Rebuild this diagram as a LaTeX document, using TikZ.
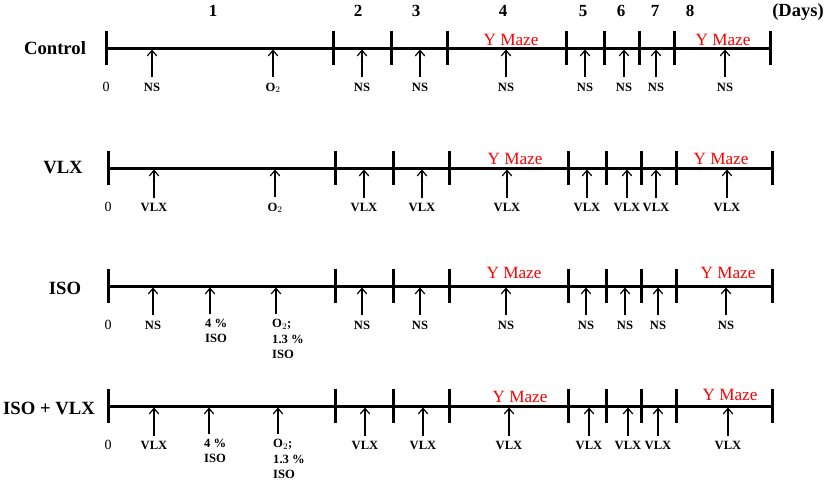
\documentclass[tikz,border=0pt]{standalone}
\usepackage{fontspec}
\setmainfont{Liberation Serif}
\usetikzlibrary{arrows.meta}

\tikzset{
  timeaxis/.style={line width=3pt},
  daytick/.style={line width=3pt},
  daynum/.style={font=\fontsize{17}{19}\selectfont\bfseries, anchor=base, inner sep=0pt},
  grouplbl/.style={font=\fontsize{18.7}{21}\selectfont\bfseries, anchor=base, inner sep=0pt},
  zerolbl/.style={font=\fontsize{14}{16}\selectfont, anchor=base, inner sep=0pt},
  druglbl/.style={font=\fontsize{12.6}{15}\selectfont\bfseries, anchor=base, inner sep=1pt},
  multilbl/.style={druglbl, align=left, anchor=north west},
  mazelbl/.style={font=\fontsize{17.2}{19}\selectfont, text=red, anchor=base, inner sep=0pt},
  drugarrow/.style={->, line width=1.2pt, shorten <=4pt}
}

% axis of one group, with its day ticks
\newcommand{\drawaxis}[1]{%
  \draw[timeaxis] (106,0) -- (770,0);
  \foreach \x in {106,333,391,447,566,604,639,674,770}
    \draw[daytick] (\x,-17) -- (\x,17);
  \node[zerolbl] (#1-zero) at (106,43) {0};
}
% injections below the axis
\newcommand{\drugarrows}[2]{%
  \foreach \x/\txt [count=\i] in {#2} {
    \coordinate (#1-t\i) at (\x,1.5);
    \node[druglbl] (#1-l\i) at (\x,43) {\txt};
    \draw[drugarrow] (#1-t\i |- #1-l\i.north) -- (#1-t\i);
  }
}

\begin{document}
\begin{tikzpicture}[x=1pt,y=-1pt,>={Straight Barb[length=5.5pt,width=9.5pt]}]
  \useasboundingbox (0,0) rectangle (829,482);
  % days
  \foreach \d/\x in {1/213,2/358,3/416,4/503,5/583,6/621,7/655,8/690}
    \node[daynum] (day\d) at (\x,16) {\d};
  \node[daynum, font=\fontsize{18.5}{20}\selectfont\bfseries] (days) at (798,16) {(Days)};

  % Control
  \begin{scope}[yshift=-48pt]
    \node[grouplbl] (control) at (55,6) {Control};
    \drawaxis{ctl}
    \drugarrows{ctl}{152/NS,273/O$_2$,362/NS,420/NS,506/NS,585/NS,624/NS,656/NS,725/NS}
    \node[mazelbl] (ctl-maze1) at (511,-3) {Y Maze};
    \node[mazelbl] (ctl-maze2) at (723,-3) {Y Maze};
  \end{scope}

  % VLX
  \begin{scope}[yshift=-168pt, xshift=2pt]
    \node[grouplbl] (vlx) at (61,5) {VLX};
    \drawaxis{vlx}
    \drugarrows{vlx}{152/VLX,273/O$_2$,362/VLX,420/VLX,505/VLX,585/VLX,625/VLX,654/VLX,725/VLX}
    \node[mazelbl] (vlx-maze1) at (513,-4) {Y Maze};
    \node[mazelbl] (vlx-maze2) at (719,-4) {Y Maze};
  \end{scope}

  % ISO
  \begin{scope}[yshift=-286pt, xshift=2pt]
    \node[grouplbl] (iso) at (63,8) {ISO};
    \drawaxis{iso}
    \drugarrows{iso}{151/NS,360/NS,418/NS,504/NS,584/NS,623/NS,656/NS,724/NS}
    \coordinate (iso-tp) at (208,1.5);
    \node[multilbl] (iso-pct) at (202,32) {4 \%\\ISO};
    \draw[drugarrow] (iso-tp |- iso-pct.north) -- (iso-tp);
    \coordinate (iso-to) at (274,1.5);
    \node[multilbl] (iso-oxy) at (269,32) {O$_2$;\\[1pt]1.3 \%\\ISO};
    \draw[drugarrow] (iso-to |- iso-oxy.north) -- (iso-to);
    \node[mazelbl] (iso-maze1) at (512,-8) {Y Maze};
    \node[mazelbl] (iso-maze2) at (726,-8) {Y Maze};
  \end{scope}

  % ISO + VLX
  \begin{scope}[yshift=-406pt, xshift=2pt]
    \node[grouplbl] (isovlx) at (47,8) {ISO + VLX};
    \drawaxis{ivx}
    \drugarrows{ivx}{152/VLX,363/VLX,421/VLX,507/VLX,587/VLX,626/VLX,656/VLX,726/VLX}
    \coordinate (ivx-tp) at (207,1.5);
    \node[multilbl] (ivx-pct) at (201,32) {4 \%\\ISO};
    \draw[drugarrow] (ivx-tp |- ivx-pct.north) -- (ivx-tp);
    \coordinate (ivx-to) at (276,1.5);
    \node[multilbl] (ivx-oxy) at (270,32) {O$_2$;\\[1pt]1.3 \%\\ISO};
    \draw[drugarrow] (ivx-to |- ivx-oxy.north) -- (ivx-to);
    \node[mazelbl] (ivx-maze1) at (518,-4) {Y Maze};
    \node[mazelbl] (ivx-maze2) at (728,-6) {Y Maze};
  \end{scope}
\end{tikzpicture}
\end{document}
